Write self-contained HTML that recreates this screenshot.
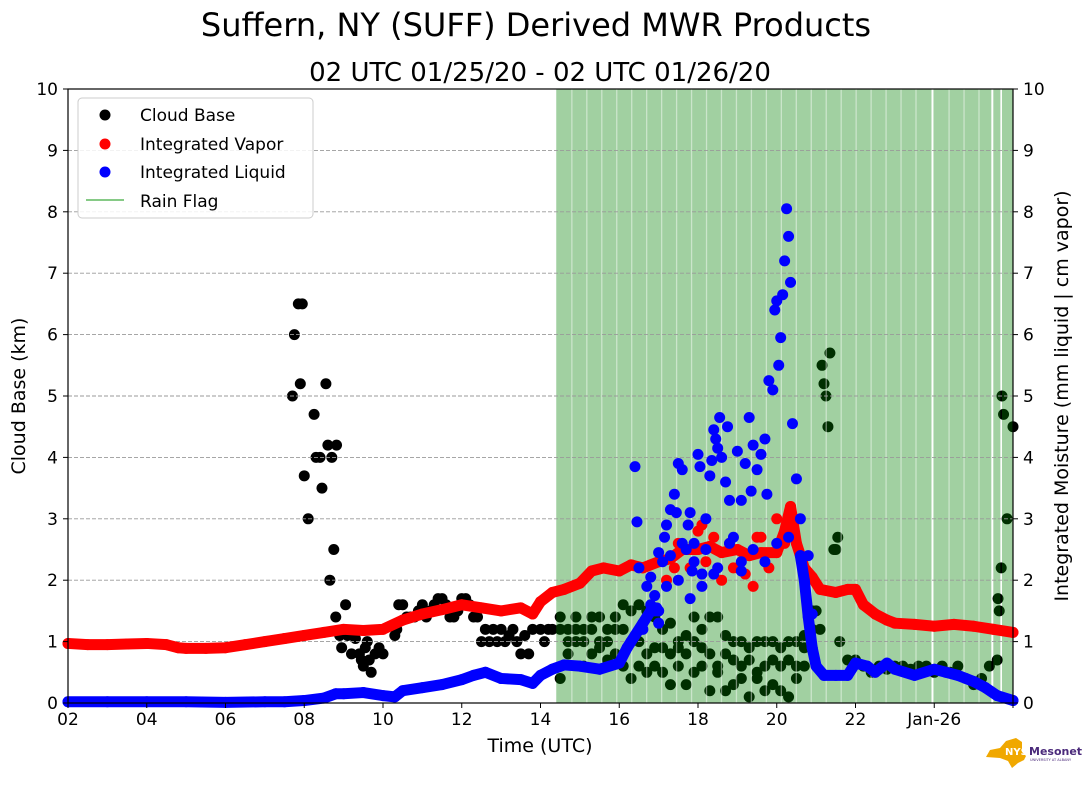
<!DOCTYPE html>
<html><head><meta charset="utf-8"><style>
body{margin:0;background:#fff;width:1089px;height:804px;overflow:hidden;font-family:"Liberation Sans","DejaVu Sans",sans-serif}
svg text{font-family:"DejaVu Sans","Liberation Sans",sans-serif}
</style></head><body>
<svg id="chart" width="1089" height="804" viewBox="0 0 1089 804" xmlns="http://www.w3.org/2000/svg">
<text x="536" y="36" font-size="32" text-anchor="middle" fill="#000">Suffern, NY (SUFF) Derived MWR Products</text>
<text x="540" y="81" font-size="26" text-anchor="middle" fill="#000">02 UTC 01/25/20 - 02 UTC 01/26/20</text>
<g id="cloudLayer"></g>
<g id="rainLayer"></g>
<g id="gridLayer"></g>
<g id="vaporLayer"></g>
<g id="liquidLayer"></g>
<g id="axisLayer"></g>
<text x="540" y="752" font-size="19" text-anchor="middle">Time (UTC)</text>
<text transform="translate(25,396) rotate(-90)" font-size="19" text-anchor="middle">Cloud Base (km)</text>
<text transform="translate(1068,396) rotate(-90)" font-size="19" text-anchor="middle">Integrated Moisture (mm liquid | cm vapor)</text>
<g>
<rect x="78" y="98" width="235" height="120" rx="4" fill="#fff" fill-opacity="0.85" stroke="#ccc"/>
<circle cx="105" cy="115" r="5.5" fill="#000"/><text x="140" y="121" font-size="17">Cloud Base</text>
<circle cx="105" cy="144" r="5.5" fill="red"/><text x="140" y="150" font-size="17">Integrated Vapor</text>
<circle cx="105" cy="172" r="5.5" fill="blue"/><text x="140" y="178" font-size="17">Integrated Liquid</text>
<line x1="86" y1="200" x2="124" y2="200" stroke="#5fb85f" stroke-width="1.5"/><text x="140" y="207" font-size="17">Rain Flag</text>
</g>
<g>
<path d="M990 750 L1000 748 L1006 741 L1016 738 L1022 742 L1022 752 L1026 756 L1024 760 L1018 763 L1012 768 L1008 761 L1000 758 L986 757 Z" fill="#f0a800"/>
<text x="1005" y="755" font-size="10" font-weight="bold" fill="#fff">NYS</text>
<text x="1029" y="755" font-size="11" font-weight="bold" fill="#4b2a7b">Mesonet</text>
<text x="1030" y="761" font-size="3.5" fill="#4b2a7b">UNIVERSITY AT ALBANY</text>
</g>
</svg>
<script>
// ---- data ----
const xTickHours = [2,4,6,8,10,12,14,16,18,20,22,24];
const xTickLabels = ["02","04","06","08","10","12","14","16","18","20","22","Jan-26"];
const yTicks = [0,1,2,3,4,5,6,7,8,9,10];
const rainStart = [14.4,23.98,25.5,25.72];
const rainEnd = [23.93,25.45,25.68,26.0];
const vaporT = [2,2.5,3,3.5,4,4.5,4.8,5,5.5,6,6.5,7,7.5,8,8.5,9,9.5,10,10.5,11,11.5,12,12.5,13,13.5,13.8,14,14.3,14.6,15,15.3,15.6,16,16.3,16.6,17,17.3,17.6,18,18.3,18.6,19,19.3,19.6,20,20.2,20.35,20.5,20.7,20.9,21.1,21.5,21.8,22,22.2,22.5,22.8,23,23.5,24,24.5,25,25.5,26];
const vaporV = [0.97,0.95,0.95,0.96,0.97,0.95,0.9,0.89,0.89,0.9,0.95,1.0,1.05,1.1,1.15,1.2,1.18,1.2,1.35,1.45,1.52,1.6,1.55,1.5,1.55,1.45,1.65,1.8,1.85,1.95,2.15,2.2,2.15,2.25,2.2,2.3,2.35,2.5,2.5,2.55,2.45,2.5,2.4,2.45,2.45,2.8,3.2,2.6,2.2,2.05,1.85,1.8,1.85,1.85,1.6,1.45,1.35,1.3,1.28,1.25,1.28,1.25,1.2,1.15];
const vapScatT = [17.2,17.5,17.8,18.0,18.2,18.4,18.6,18.8,19.0,19.2,19.4,19.6,19.8,20.0,20.2,17.4,18.1,18.9,19.5];
const vapScatV = [2.0,2.6,2.2,2.8,2.3,2.7,2.0,2.6,2.2,2.1,1.9,2.7,2.2,3.0,2.6,2.2,2.9,2.2,2.7];
const liquidT1 = [2,3,4,5,6,7,7.5,8,8.5,8.8,9,9.5,10,10.3,10.5,11,11.5,12,12.3,12.6,13,13.5,13.8,14,14.3,14.6,15,15.5,16,16.2,16.4,16.6,16.8,17];
const liquidV1 = [0.02,0.02,0.02,0.02,0.01,0.02,0.02,0.04,0.08,0.15,0.15,0.17,0.12,0.1,0.2,0.25,0.3,0.38,0.45,0.5,0.4,0.38,0.32,0.45,0.55,0.62,0.6,0.55,0.65,0.9,1.1,1.3,1.5,1.5];
const liquidT2 = [20.6,20.7,20.8,20.9,21.0,21.2,21.5,21.8,22.0,22.3,22.5,22.8,23,23.5,24,24.3,24.6,25,25.3,25.6,26];
const liquidV2 = [2.4,2.0,1.4,0.9,0.6,0.45,0.45,0.45,0.65,0.6,0.5,0.65,0.55,0.45,0.55,0.5,0.45,0.35,0.25,0.12,0.04];
const liqScatT = [16.4,16.45,16.5,16.7,16.8,16.9,17.0,17.1,17.2,17.3,17.4,17.45,17.5,17.6,17.7,17.8,17.85,17.9,18.0,18.05,18.1,18.2,18.3,18.35,18.4,18.5,18.55,18.6,18.7,18.8,18.9,19.0,19.1,19.2,19.3,19.35,19.4,19.5,19.6,19.7,19.75,19.8,19.9,19.95,20.0,20.05,20.1,20.15,20.2,20.25,20.3,20.35,20.4,20.5,20.6,20.8,20.9,19.1,18.75,18.45,17.75,17.15,16.95,17.0,17.3,17.6,17.9,18.2,18.5,18.8,19.1,19.4,19.7,20.0,20.3,16.6,16.8,17.2,17.5,17.8,18.1,18.4];
const liqScatV = [3.85,2.95,2.2,1.9,2.05,1.75,2.45,2.3,2.9,3.15,3.4,3.1,3.9,3.8,2.5,3.1,2.15,2.6,4.05,3.85,2.1,3.0,3.7,3.95,4.45,4.15,4.65,4.0,3.6,3.3,2.7,4.1,3.3,3.9,4.65,3.45,4.2,3.8,4.05,4.3,3.4,5.25,5.1,6.4,6.55,5.5,5.95,6.65,7.2,8.05,7.6,6.85,4.55,3.65,3.0,2.4,1.45,2.15,4.5,4.3,2.9,2.7,1.55,1.3,2.4,2.6,2.3,2.5,2.2,2.6,2.3,2.5,2.3,2.6,2.7,1.2,1.6,1.9,2.0,1.7,1.9,2.1];
// cloud base: early burst
const cloudAT = [7.7,7.75,7.85,7.95,7.9,8.0,8.1,8.25,8.3,8.4,8.45,8.55,8.6,8.65,8.7,8.75,8.82,8.8,8.9,8.95,9.05,9.1,9.2,9.3,9.4,9.45,9.5,9.55,9.6,9.7,9.8,9.9,10.0,9.65];
const cloudAV = [5,6,6.5,6.5,5.2,3.7,3,4.7,4,4,3.5,5.2,4.2,2,4,2.5,4.2,1.4,1.1,0.9,1.6,1.1,0.8,1.05,0.8,0.7,0.6,0.9,1.0,0.5,0.8,0.9,0.8,0.7];
// cloud base: morning band
const cloudBT = [10.3,10.35,10.4,10.5,10.6,10.7,10.8,10.9,11.0,11.1,11.2,11.3,11.4,11.5,11.6,11.7,11.8,11.9,12.0,12.1,12.2,12.3,12.4,12.5,12.6,12.7,12.8,12.9,13.0,13.1,13.2,13.3,13.4,13.5,13.6,13.7,13.8,14.0,14.1,14.2,14.3];
const cloudBV = [1.1,1.2,1.6,1.6,1.4,1.4,1.4,1.5,1.6,1.4,1.5,1.6,1.7,1.7,1.6,1.4,1.4,1.5,1.7,1.7,1.6,1.4,1.4,1.0,1.2,1.0,1.2,1.0,1.2,1.0,1.1,1.2,1.0,0.8,1.1,0.8,1.2,1.2,1.0,1.2,1.2];
// cloud base: rain period rows
const cloudCT = [14.5,14.7,14.9,15.1,15.3,15.5,15.7,15.9,16.1,16.3,16.5,16.7,16.9,17.1,17.3,17.5,17.7,17.9,18.1,18.3,18.5,18.7,18.9,19.1,19.3,19.5,19.7,19.9,20.1,20.3,20.5,20.7,20.9];
const cloudCV1 = [1.4,1.2,1.4,1.2,1.4,1.4,1.2,1.4,1.6,1.5,1.6,1.5,1.4,1.2,1.3,1.0,1.1,1.4,1.2,1.4,1.4,1.1,1.0,1.0,0.9,1.0,1.0,1.0,0.9,1.0,1.0,1.1,1.5];
const cloudCV2 = [1.2,1.0,1.2,1.0,1.2,1.0,1.0,1.2,1.2,1.0,1.0,0.8,0.9,0.9,0.8,0.9,0.8,1.0,0.9,0.8,0.6,0.8,0.7,0.6,0.7,0.5,0.6,0.7,0.6,0.7,0.6,0.9,1.2];
const cloudCV3 = [0.4,0.8,1.0,0.6,0.8,0.9,0.7,0.8,0.6,0.4,0.6,0.5,0.6,0.5,0.3,0.6,0.3,0.5,0.6,0.2,0.5,0.2,0.3,0.4,0.1,0.4,0.2,0.3,0.2,0.1,0.4,0.6,0.9];
// cloud base: evening
const cloudDT = [21.0,21.1,21.15,21.2,21.25,21.3,21.35,21.45,21.5,21.55,21.6,21.8,22.0,22.2,22.4,22.6,22.8,23.0,23.2,23.4,23.6,23.8,24.0,24.2,24.4,24.6,24.8,25.0,25.2,25.4,25.6,25.62,25.65,25.7,25.72,25.76,25.85,26.0];
const cloudDV = [1.5,1.2,5.5,5.2,5.0,4.5,5.7,2.5,2.5,2.7,1.0,0.7,0.7,0.6,0.5,0.6,0.55,0.6,0.6,0.55,0.6,0.6,0.5,0.6,0.5,0.6,0.4,0.3,0.4,0.6,0.7,1.7,1.5,2.2,5.0,4.7,3.0,4.5];

// ---- axes ----
const X0=68,X1=1013,Y0=703,Y1=89;
const xs = h => X0 + (h-2)*(X1-X0)/24;
const ys = v => Y0 - v*(Y0-Y1)/10;
const NS="http://www.w3.org/2000/svg";
function mk(tag, attrs, parent){const e=document.createElementNS(NS,tag);for(const k in attrs)e.setAttribute(k,attrs[k]);parent.appendChild(e);return e;}
function dots(layer,T,V,col,name){
  for(let i=0;i<T.length;i++){
    const c=mk('circle',{cx:xs(T[i]),cy:ys(V[i]),r:5.5,fill:col},layer);
    
    
  }
}
function series(layer,T,V,col,name){
  const pts=T.map((t,i)=>xs(t)+','+ys(V[i])).join(' ');
  mk('polyline',{points:pts,fill:'none',stroke:col,'stroke-width':11,'stroke-linejoin':'round','stroke-linecap':'round'},layer);
  dots(layer,T,V,col,name);
}
const cloudL=document.getElementById('cloudLayer');
dots(cloudL,cloudAT,cloudAV,'#000','cloud-base-point');
dots(cloudL,cloudBT,cloudBV,'#000','cloud-base-point');
dots(cloudL,cloudCT,cloudCV1,'#000','cloud-base-point');
dots(cloudL,cloudCT,cloudCV2,'#000','cloud-base-point');
dots(cloudL,cloudCT,cloudCV3,'#000','cloud-base-point');
dots(cloudL,cloudDT,cloudDV,'#000','cloud-base-point');

const rainL=document.getElementById('rainLayer');
for(let i=0;i<rainStart.length;i++){
  const r=mk('rect',{x:xs(rainStart[i]),y:Y1,width:xs(rainEnd[i])-xs(rainStart[i]),height:Y0-Y1,fill:'#008000','fill-opacity':0.37},rainL);
  
  
  for(let h=rainStart[i]+0.38;h<rainEnd[i]-0.1;h+=0.38){
    mk('rect',{x:xs(h),y:Y1,width:1.3,height:Y0-Y1,fill:'#fff','fill-opacity':0.45},rainL);
  }
}
const gridL=document.getElementById('gridLayer');
for(const v of yTicks){ if(v===0||v===10)continue;
  const g=mk('line',{x1:X0,x2:X1,y1:ys(v),y2:ys(v),stroke:'#999','stroke-dasharray':'4,2','stroke-width':0.9},gridL);
  
  
}
const vapL=document.getElementById('vaporLayer');
series(vapL,vaporT,vaporV,'red','vapor-point');
dots(vapL,vapScatT,vapScatV,'red','vapor-scatter-point');
const liqL=document.getElementById('liquidLayer');
series(liqL,liquidT1,liquidV1,'blue','liquid-point');
series(liqL,liquidT2,liquidV2,'blue','liquid-point');
dots(liqL,liqScatT,liqScatV,'blue','liquid-scatter-point');

const ax=document.getElementById('axisLayer');
mk('rect',{x:X0,y:Y1,width:X1-X0,height:Y0-Y1,fill:'none',stroke:'#000','stroke-width':1.2},ax);
for(let i=0;i<xTickHours.length;i++){
  const x=xs(xTickHours[i]);
  mk('line',{x1:x,x2:x,y1:Y0,y2:Y0+5,stroke:'#000'},ax);
  const t=mk('text',{x:x,y:Y0+22,'font-size':17,'text-anchor':'middle'},ax);
  t.textContent=xTickLabels[i];
  
  
}
mk('line',{x1:X1,x2:X1,y1:Y0,y2:Y0+5,stroke:'#000'},ax);
for(const v of yTicks){
  const y=ys(v);
  mk('line',{x1:X0-5,x2:X0,y1:y,y2:y,stroke:'#000'},ax);
  mk('line',{x1:X1,x2:X1+5,y1:y,y2:y,stroke:'#000'},ax);
  const t=mk('text',{x:X0-10,y:y+6,'font-size':17,'text-anchor':'end'},ax);
  t.textContent=v;
  
  
  const t2=mk('text',{x:X1+10,y:y+6,'font-size':17,'text-anchor':'start'},ax);
  t2.textContent=v;
  
  
}
</script>
</body></html>
